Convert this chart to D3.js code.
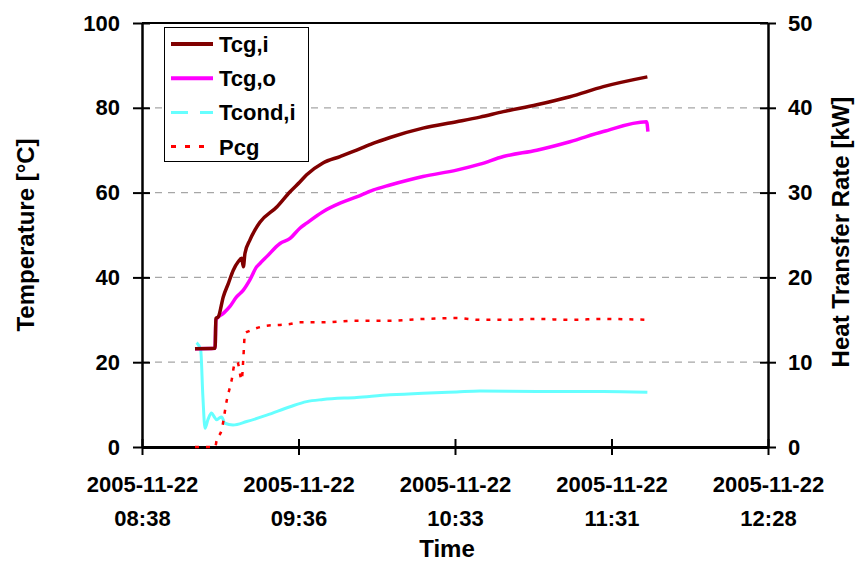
<!DOCTYPE html>
<html>
<head>
<meta charset="utf-8">
<script src="https://cdn.jsdelivr.net/npm/d3@7"></script>
<style>
  html, body { margin: 0; padding: 0; background: #fff; }
  svg text { font-family: "Liberation Sans", Arial, sans-serif; font-weight: bold; fill: #000; }
</style>
</head>
<body>
<svg id="chart" width="855" height="563"></svg>
<script>
// ---- Data (time in minutes after midnight, 2005-11-22) ----
const xTickValues = [518.4, 576.0, 633.6, 691.2, 748.8];
const xTickDates  = ["2005-11-22", "2005-11-22", "2005-11-22", "2005-11-22", "2005-11-22"];
const xTickTimes  = ["08:38", "09:36", "10:33", "11:31", "12:28"];
const leftTicks   = [0, 20, 40, 60, 80, 100];
const rightTicks  = [0, 10, 20, 30, 40, 50];

const tcgiTime = [537.9, 545.3, 545.6, 546.5, 548.3, 550.2, 552.0, 553.8, 555.1, 555.7, 556.3, 558.1, 560.0, 561.8, 568.0, 572.9, 576.5, 579.0, 585.0, 591.3, 597.4, 603.4, 609.7, 621.8, 634.2, 642.8, 651.4, 663.7, 675.9, 688.2, 704.4];
const tcgiVal  = [23.2, 23.3, 30.3, 30.7, 35.4, 38.6, 41.7, 43.7, 44.5, 42.5, 45.7, 48.8, 51.2, 53.0, 56.6, 60.2, 62.5, 64.2, 67.0, 68.5, 70.0, 71.6, 73.0, 75.2, 76.7, 77.8, 79.1, 80.7, 82.6, 85.0, 87.3];

const tcgoTime = [537.9, 545.3, 545.6, 548.3, 550.7, 553.2, 555.7, 558.1, 560.6, 561.8, 564.3, 569.2, 572.9, 576.5, 579.0, 585.0, 591.3, 597.4, 603.4, 609.7, 621.8, 634.2, 642.8, 651.4, 663.7, 675.9, 688.2, 704.1, 704.6];
const tcgoVal  = [23.2, 23.3, 30.0, 31.5, 33.1, 35.4, 37.0, 39.4, 42.5, 43.3, 44.9, 48.0, 49.2, 51.6, 52.8, 55.5, 57.5, 59.0, 60.6, 61.8, 63.8, 65.3, 66.7, 68.5, 70.0, 72.0, 74.4, 76.7, 74.4];

const tcondTime = [538.5, 540.0, 540.8, 541.6, 542.7, 544.0, 544.9, 545.9, 546.7, 547.7, 548.9, 551.9, 556.9, 564.3, 572.9, 579.0, 585.0, 597.4, 609.7, 621.8, 634.2, 642.8, 663.7, 688.2, 704.4];
const tcondVal  = [24.6, 22.9, 12.0, 4.4, 6.5, 8.0, 7.2, 6.4, 6.8, 7.1, 5.6, 5.2, 6.0, 7.5, 9.5, 10.7, 11.2, 11.7, 12.3, 12.7, 13.0, 13.2, 13.1, 13.1, 12.9];

const pcgTime = [537.9, 545.3, 545.9, 547.7, 549.6, 551.4, 552.6, 553.5, 555.1, 555.7, 556.3, 558.1, 564.3, 569.2, 572.9, 576.5, 585.0, 597.4, 609.7, 621.8, 634.2, 642.8, 651.4, 663.7, 675.9, 688.2, 704.4];
const pcgVal  = [0.0, 0.0, 0.8, 2.0, 5.5, 7.9, 9.9, 10.0, 7.9, 10.5, 13.4, 13.7, 14.3, 14.4, 14.5, 14.7, 14.7, 14.9, 14.9, 15.1, 15.2, 15.0, 15.0, 15.1, 15.0, 15.1, 15.0];

const seriesNames = ["Tcg,i", "Tcg,o", "Tcond,i", "Pcg"];

// ---- Layout ----
const svg = d3.select("#chart");
const L = 142, R = 768, T = 23, B = 447;

const x = d3.scaleLinear().domain([518.4, 748.8]).range([L, R]);
const yL = d3.scaleLinear().domain([0, 100]).range([B, T]);
const yR = d3.scaleLinear().domain([0, 50]).range([B, T]);

// gridlines
svg.append("g").selectAll("line").data(leftTicks.filter(d => d > 0 && d < 100)).join("line")
  .attr("x1", L).attr("x2", R).attr("y1", d => yL(d)).attr("y2", d => yL(d))
  .attr("stroke", "#a6a6a6").attr("stroke-width", 1.2).attr("stroke-dasharray", "7,6");

// top border
svg.append("line").attr("x1", L).attr("x2", R).attr("y1", T).attr("y2", T)
  .attr("stroke", "#000").attr("stroke-width", 2);

// axes
const axL = svg.append("g").attr("transform", `translate(${L},0)`)
  .call(d3.axisLeft(yL).tickValues(leftTicks).tickSize(0).tickPadding(22).tickFormat(d3.format("d")));
axL.select(".domain").attr("stroke-width", 2.5);
axL.selectAll(".tick").append("line").attr("x1", -9).attr("x2", 8).attr("stroke", "#000").attr("stroke-width", 2);

const axR = svg.append("g").attr("transform", `translate(${R},0)`)
  .call(d3.axisRight(yR).tickValues(rightTicks).tickSize(0).tickPadding(20).tickFormat(d3.format("d")));
axR.select(".domain").attr("stroke-width", 2.5);
axR.selectAll(".tick").append("line").attr("x1", -8).attr("x2", 8).attr("stroke", "#000").attr("stroke-width", 2);

const axB = svg.append("g").attr("transform", `translate(0,${B})`)
  .call(d3.axisBottom(x).tickValues(xTickValues).tickSize(0).tickFormat(""));
axB.select(".domain").attr("stroke-width", 3);
axB.selectAll(".tick").append("line").attr("y1", -8).attr("y2", 8).attr("stroke", "#000").attr("stroke-width", 2);
axB.selectAll(".tick text").remove();
axB.selectAll(".tick").each(function(d, i) {
  const g = d3.select(this);
  g.append("text").attr("y", 45).attr("text-anchor", "middle").attr("font-size", 22).text(xTickDates[i]);
  g.append("text").attr("y", 79).attr("text-anchor", "middle").attr("font-size", 22).text(xTickTimes[i]);
});

[axL, axR].forEach(a => a.selectAll(".tick text").attr("font-size", 22).attr("fill", "#000")
  .style("font-family", "'Liberation Sans', Arial, sans-serif").style("font-weight", "bold"));

// axis titles
svg.append("text").attr("x", 447).attr("y", 557).attr("text-anchor", "middle").attr("font-size", 24).text("Time");
svg.append("text").attr("transform", `translate(34,235) rotate(-90)`).attr("text-anchor", "middle").attr("font-size", 24).text("Temperature [°C]");
svg.append("text").attr("transform", `translate(849,232) rotate(-90)`).attr("text-anchor", "middle").attr("font-size", 24).text("Heat Transfer Rate [kW]");

// lines
const mk = (times, vals, ys) => d3.line().curve(d3.curveMonotoneX)
  .x((d, i) => x(times[i])).y((d) => ys(d))(vals);
const plot = svg.append("g");
plot.append("path").attr("d", mk(tcondTime, tcondVal, yL)).attr("fill", "none")
  .attr("stroke", "#66ffff").attr("stroke-width", 3).attr("stroke-linejoin", "round");
plot.append("path").attr("d", mk(pcgTime, pcgVal, yR)).attr("fill", "none")
  .attr("stroke", "#ff0000").attr("stroke-width", 2.5).attr("stroke-dasharray", "4,7");
plot.append("path").attr("d", mk(tcgoTime, tcgoVal, yL)).attr("fill", "none")
  .attr("stroke", "#ff00ff").attr("stroke-width", 3.5).attr("stroke-linejoin", "round");
plot.append("path").attr("d", mk(tcgiTime, tcgiVal, yL)).attr("fill", "none")
  .attr("stroke", "#800000").attr("stroke-width", 3.5).attr("stroke-linejoin", "round");

// legend
const lg = svg.append("g");
lg.append("rect").attr("x", 164.5).attr("y", 27.5).attr("width", 144).attr("height", 134)
  .attr("fill", "#fff").attr("stroke", "#000").attr("stroke-width", 1);
const legStyles = [
  {c: "#800000", w: 4, dash: null},
  {c: "#ff00ff", w: 4, dash: null},
  {c: "#66ffff", w: 3, dash: "17,12"},
  {c: "#ff0000", w: 3, dash: "5,9"}
];
seriesNames.forEach((n, i) => {
  const cy = 44 + i * 34.2;
  lg.append("line").attr("x1", 171).attr("x2", 213).attr("y1", cy).attr("y2", cy)
    .attr("stroke", legStyles[i].c).attr("stroke-width", legStyles[i].w)
    .attr("stroke-dasharray", legStyles[i].dash);
  lg.append("text").attr("x", 219).attr("y", cy + 8).attr("font-size", 22).text(n);
});
</script>
</body>
</html>
